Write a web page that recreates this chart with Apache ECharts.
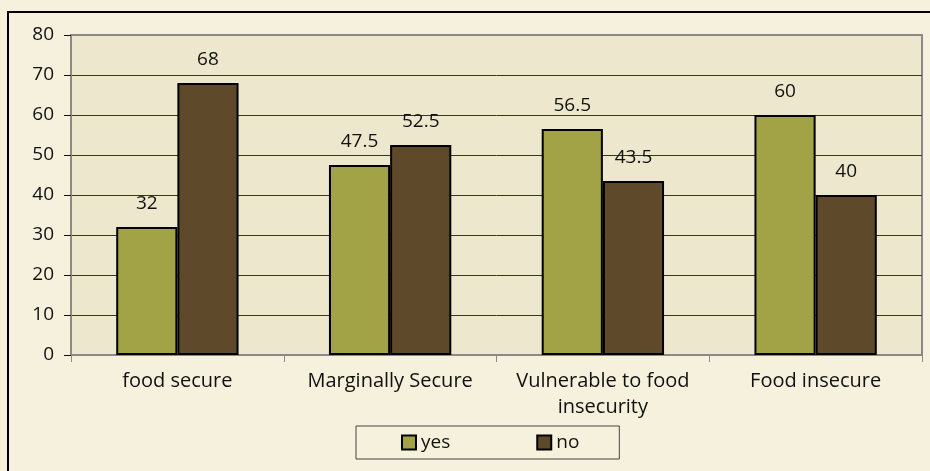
<!DOCTYPE html>
<html>
<head>
<meta charset="utf-8">
<script src="https://cdn.jsdelivr.net/npm/echarts@6/dist/echarts.min.js"></script>
<style>html,body{margin:0;padding:0;background:#F5F1DC;}#c{width:930px;height:471px;}</style>
</head>
<body>
<div id="c"></div>
<script>
const categories = ['food secure', 'Marginally Secure', 'Vulnerable to food\ninsecurity', 'Food insecure'];
const yesValues = [32, 47.5, 56.5, 60];
const noValues = [68, 52.5, 43.5, 40];
const seriesNames = ['yes', 'no'];
const yTicks = { min: 0, max: 80, interval: 10 };

const FONT = '"Open Sans", "Noto Sans", sans-serif';
const chart = echarts.init(document.getElementById('c'));
const lbl = {
  show: true, position: 'top', distance: 14, color: '#111',
  fontFamily: FONT, fontSize: 19
};
chart.setOption({
  backgroundColor: '#F5F1DC',
  animation: false,
  textStyle: { fontFamily: FONT },
  graphic: [{
    type: 'rect', silent: true, z: 100,
    shape: { x: 8, y: 12, width: 1000, height: 1000 },
    style: { fill: 'none', stroke: '#000', lineWidth: 2 }
  }],
  grid: {
    left: 71, right: 8, top: 35, bottom: 116,
    show: true, backgroundColor: '#ECE7CD', borderColor: '#8a8a8a', borderWidth: 2
  },
  legend: {
    data: seriesNames,
    left: 356, top: 426,
    padding: [7, 40, 7, 45],
    itemGap: 86,
    itemWidth: 14, itemHeight: 14,
    borderColor: '#444', borderWidth: 1,
    backgroundColor: '#F5F1DC',
    textStyle: { fontFamily: FONT, fontSize: 19, color: '#111' },
    icon: 'rect'
  },
  xAxis: {
    type: 'category',
    data: categories,
    axisLine: { lineStyle: { color: '#8a8a8a', width: 2 } },
    axisTick: { show: true, length: 7, lineStyle: { color: '#8a8a8a' } },
    axisLabel: { color: '#111', fontFamily: FONT, fontSize: 20, margin: 13, lineHeight: 26, interval: 0 }
  },
  yAxis: {
    type: 'value',
    min: yTicks.min, max: yTicks.max, interval: yTicks.interval,
    axisLine: { show: true, lineStyle: { color: '#8a8a8a', width: 2 } },
    axisTick: { show: true, length: 7, lineStyle: { color: '#111' } },
    axisLabel: { color: '#111', fontFamily: FONT, fontSize: 19, margin: 17 },
    splitLine: { show: true, lineStyle: { color: ['#333','#333','#333','#333','#333','#333','#333','#333','#8a8a8a'], width: 1 } }
  },
  series: [
    {
      name: seriesNames[0], type: 'bar', data: yesValues,
      barGap: '0%', barCategoryGap: '42.5%',
      itemStyle: { color: '#A2A246', borderColor: '#000', borderWidth: 2 },
      label: lbl
    },
    {
      name: seriesNames[1], type: 'bar', data: noValues,
      itemStyle: { color: '#5E4A2B', borderColor: '#000', borderWidth: 2 },
      label: lbl
    }
  ]
});
</script>
</body>
</html>
